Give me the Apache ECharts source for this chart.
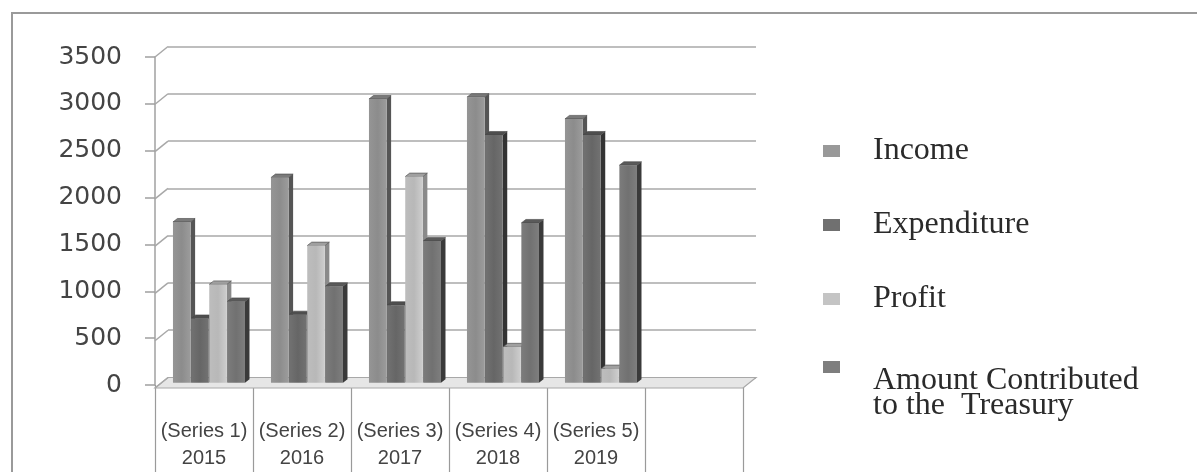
<!DOCTYPE html>
<html>
<head>
<meta charset="utf-8">
<script src="https://cdn.jsdelivr.net/npm/echarts@6/dist/echarts.min.js"></script>
<style>
html,body{margin:0;padding:0;background:#fff;}
#chart{width:1197px;height:472px;}
</style>
</head>
<body>
<div id="chart"></div>
<script>
// ---- data ----
const seriesTags = ['(Series 1)', '(Series 2)', '(Series 3)', '(Series 4)', '(Series 5)', ''];
const years = ['2015', '2016', '2017', '2018', '2019', ''];
const seriesNames = ['Income', 'Expenditure', 'Profit', 'Amount Contributed to the  Treasury'];
const income = [1700, 2170, 3000, 3020, 2790];
const expenditure = [680, 720, 820, 2620, 2620];
const profit = [1040, 1450, 2180, 380, 150];
const treasury = [860, 1020, 1500, 1690, 2300];
const yMin = 0, yMax = 3500, yStep = 500;

// ---- style ----
const faceColors = ['#8c8c8c', '#666666', '#b8b8b8', '#717171'];
const sideColors = ['#555555', '#333333', '#8a8a8a', '#3a3a3a'];
const topColors = ['#7a7a7a', '#4e4e4e', '#a0a0a0', '#5a5a5a'];
const legendColors = ['#999999', '#707070', '#c4c4c4', '#7e7e7e'];

const categories = seriesTags.map((t, i) => t ? t + '\n' + years[i] : '');
const values = [income, expenditure, profit, treasury];
const tickValues = [];
for (let v = yMin; v <= yMax; v += yStep) tickValues.push(v);

const FL = 155, FT = 57, FW = 588, FH = 331; // front plane
const DX = 13, DY = 10.5;                    // depth offset to back wall
const chart = echarts.init(document.getElementById('chart'), null, {renderer: 'canvas'});

function barRenderer(k) {
  return function (params, api) {
    const cat = api.value(0), val = api.value(1);
    const base = api.coord([cat, 0]);
    const top = api.coord([cat, val]);
    const bw = api.size([1, 0])[0];
    const x0 = base[0] + bw * (-0.383 + k * 0.185);
    const w = bw * 0.18;
    const dx = 4.5, dy = 3.5;
    return {
      type: 'group',
      children: [
        {type: 'polygon', shape: {points: [[x0 + w, top[1]], [x0 + w + dx, top[1] - dy], [x0 + w + dx, base[1] - dy], [x0 + w, base[1]]]},
          style: {fill: sideColors[k]}},
        {type: 'polygon', shape: {points: [[x0, top[1]], [x0 + dx, top[1] - dy], [x0 + w + dx, top[1] - dy], [x0 + w, top[1]]]},
          style: {fill: topColors[k], stroke: '#444', lineWidth: 0.6}},
        {type: 'rect', shape: {x: x0, y: top[1], width: w, height: base[1] - top[1]},
          style: {fill: {type: 'linear', x: 0, y: 0, x2: 1, y2: 0, colorStops: [
            {offset: 0, color: echarts.color.lift(faceColors[k], 0.08)},
            {offset: 0.5, color: faceColors[k]},
            {offset: 1, color: echarts.color.lift(faceColors[k], -0.12)}]}}}
      ]
    };
  };
}

const barSeries = values.map((arr, k) => ({
  type: 'custom',
  name: seriesNames[k],
  xAxisIndex: 2, yAxisIndex: 2,
  z: 5,
  itemStyle: {color: legendColors[k]},
  renderItem: barRenderer(k),
  data: arr.map((v, i) => [i, v])
}));

const legendText = {fontFamily: 'Liberation Serif', fontSize: 32, lineHeight: 32, color: '#2a2a2a'};

const option = {
  backgroundColor: '#ffffff',
  animation: false,
  graphic: [{
    type: 'rect', shape: {x: 12, y: 13, width: 1200, height: 500},
    style: {fill: 'none', stroke: '#9a9a9a', lineWidth: 2}, silent: true, z: -1
  }],
  grid: [
    {left: FL, top: FT, width: FW, height: FH},                     // front
    {left: FL + DX, top: FT - DY, width: FW, height: FH},           // back wall
    {left: FL + DX / 2, top: FT - DY / 2, width: FW, height: FH}    // bars (mid depth)
  ],
  xAxis: [
    {gridIndex: 0, type: 'category', data: categories, boundaryGap: true,
      axisLine: {show: false},
      axisTick: {show: true, interval: 0, length: 90, lineStyle: {color: '#9a9a9a', width: 1.2}},
      axisLabel: {interval: 0, margin: 33, fontFamily: 'Liberation Sans', fontSize: 20, lineHeight: 27, color: '#444'}},
    {gridIndex: 1, type: 'value', min: 0, max: 1, show: false},
    {gridIndex: 2, type: 'category', data: categories, show: false}
  ],
  yAxis: [
    {gridIndex: 0, type: 'value', min: yMin, max: yMax, interval: yStep,
      axisLine: {show: true, lineStyle: {color: '#a0a0a0', width: 1.5}},
      axisTick: {show: true, length: 10, lineStyle: {color: '#a0a0a0', width: 1.5}},
      splitLine: {show: false},
      axisLabel: {margin: 33, fontFamily: 'DejaVu Sans', fontSize: 25, color: '#444', formatter: v => String(v)}},
    {gridIndex: 1, type: 'value', min: yMin, max: yMax, interval: yStep,
      axisLine: {show: false}, axisTick: {show: false}, axisLabel: {show: false},
      splitLine: {show: true, lineStyle: {color: '#a8a8a8', width: 1.5}}},
    {gridIndex: 2, type: 'value', min: yMin, max: yMax, show: false}
  ],
  legend: [
    {data: seriesNames.slice(0, 3), orient: 'vertical', left: 823, top: 135, padding: 0,
      itemGap: 42, itemWidth: 17, itemHeight: 12, icon: 'rect',
      textStyle: Object.assign({padding: [0, 0, 0, 28]}, legendText)},
    {data: [seriesNames[3]], orient: 'vertical', left: 823, top: 337, padding: 0,
      itemWidth: 17, itemHeight: 12, icon: 'rect',
      formatter: () => '{s| }\n{a|Amount Contributed}\n{a|to the  Treasury}',
      textStyle: {padding: [0, 0, 0, 28], color: '#2a2a2a',
        rich: {
          s: {fontSize: 10, lineHeight: 53},
          a: {fontFamily: 'Liberation Serif', fontSize: 32, lineHeight: 25, color: '#2a2a2a'}
        }}}
  ],
  series: [
    {
      type: 'custom', name: 'floor', xAxisIndex: 1, yAxisIndex: 1, z: 1, silent: true,
      renderItem: function (params, api) {
        const bl = api.coord([0, yMin]), br = api.coord([1, yMin]);
        return {type: 'polygon', shape: {points: [bl, br, [br[0] - DX, br[1] + DY], [bl[0] - DX, bl[1] + DY]]},
          style: {fill: '#e6e6e6', stroke: '#a8a8a8', lineWidth: 1.2}};
      },
      data: [[0, 0]]
    },
    {
      type: 'custom', name: 'connectors', xAxisIndex: 1, yAxisIndex: 1, z: 1, silent: true,
      renderItem: function (params, api) {
        const p = api.coord([0, api.value(1)]);
        return {type: 'line', shape: {x1: p[0] - DX, y1: p[1] + DY, x2: p[0], y2: p[1]},
          style: {stroke: '#a8a8a8', lineWidth: 1.5}};
      },
      data: tickValues.map(v => [0, v])
    }
  ].concat(barSeries)
};
chart.setOption(option);
</script>
</body>
</html>
